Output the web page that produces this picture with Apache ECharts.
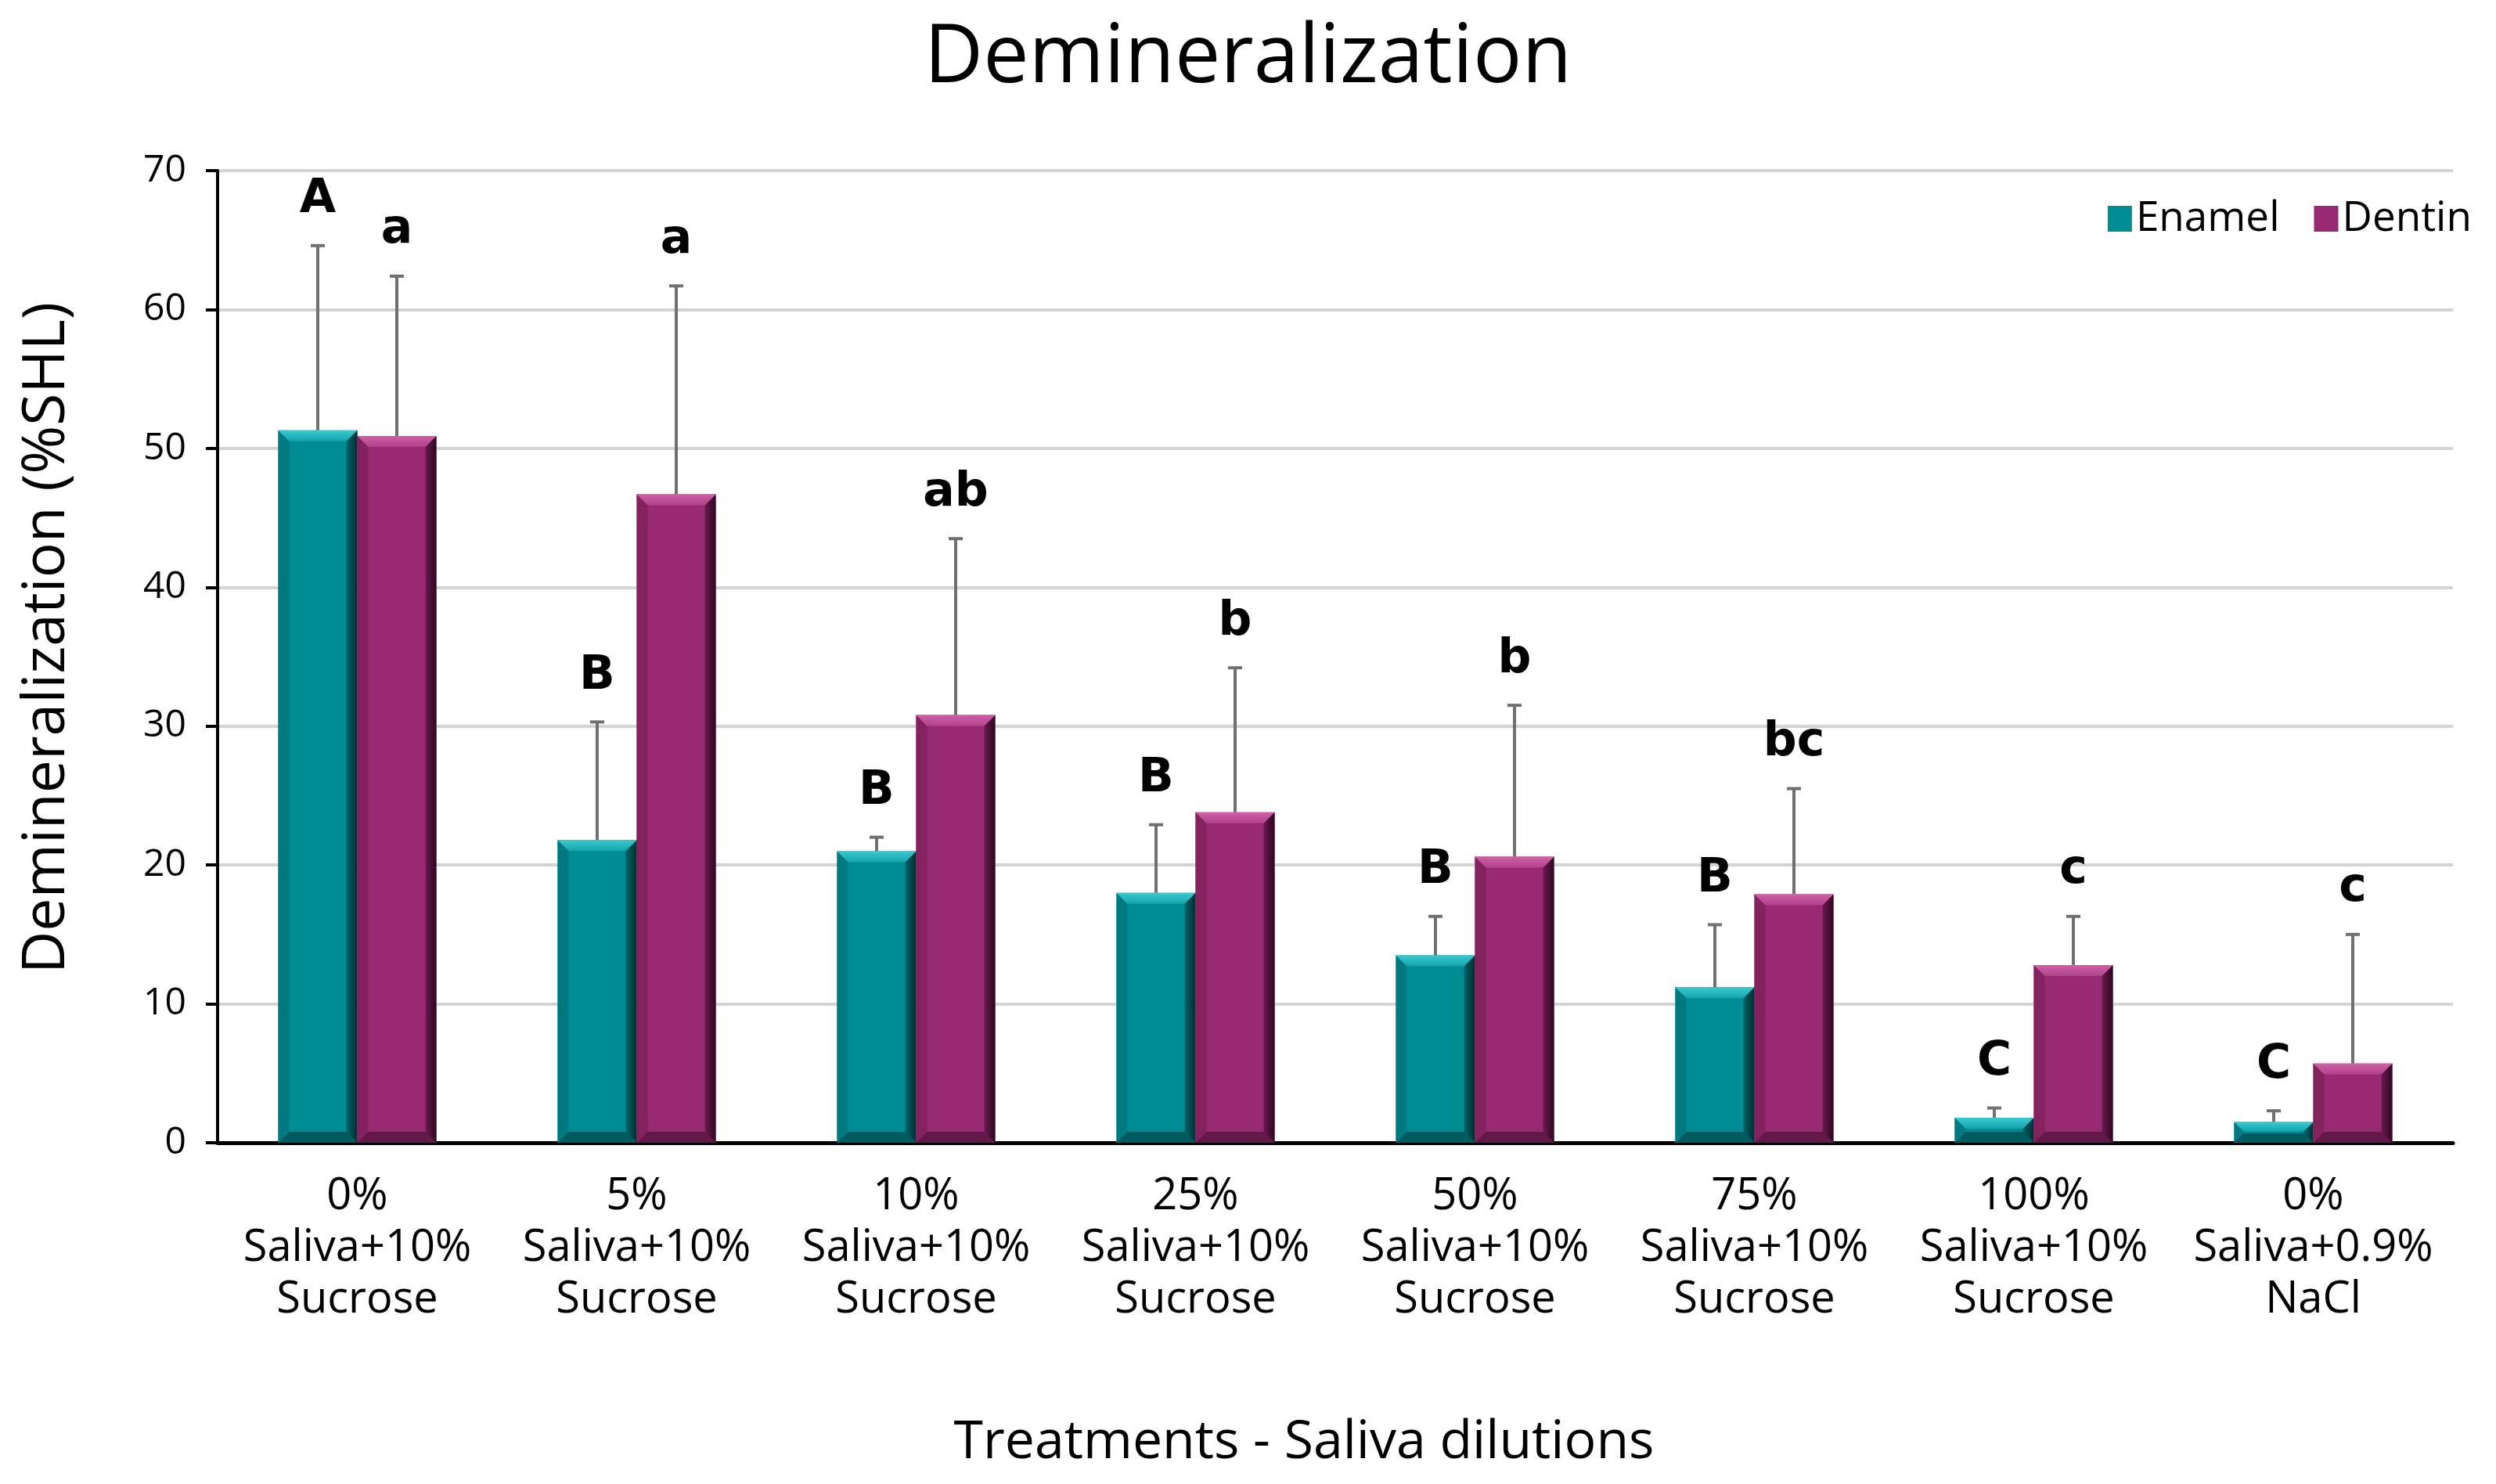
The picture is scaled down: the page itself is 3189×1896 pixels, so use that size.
<!DOCTYPE html>
<html><head><meta charset="utf-8">
<script src="https://cdn.jsdelivr.net/npm/echarts@6/dist/echarts.min.js"></script>
<style>html,body{margin:0;padding:0;background:#fff}#c{width:3189px;height:1896px}</style>
</head><body><div id="c"></div>
<script>
const categories = [
  '0%\nSaliva+10%\nSucrose', '5%\nSaliva+10%\nSucrose', '10%\nSaliva+10%\nSucrose',
  '25%\nSaliva+10%\nSucrose', '50%\nSaliva+10%\nSucrose', '75%\nSaliva+10%\nSucrose',
  '100%\nSaliva+10%\nSucrose', '0%\nSaliva+0.9%\nNaCl'
];
const enamel   = [51.3, 21.8, 21.0, 18.0, 13.5, 11.2, 1.8, 1.5];
const enamelSD = [13.3, 8.5, 1.0, 4.9, 2.8, 4.5, 0.7, 0.8];
const dentin   = [50.9, 46.7, 30.8, 23.8, 20.6, 17.9, 12.8, 5.7];
const dentinSD = [11.5, 15.0, 12.7, 10.4, 10.9, 7.6, 3.5, 9.3];
const enamelLetters = ['A', 'B', 'B', 'B', 'B', 'B', 'C', 'C'];
const dentinLetters = ['a', 'a', 'ab', 'b', 'b', 'bc', 'c', 'c'];
const yTicks = [0, 10, 20, 30, 40, 50, 60, 70];

const BARW = 0.283;
const FONT = "'Open Sans', 'Noto Sans', sans-serif";

function bevelSeries(vals, side, light, edgeL, edgeR, bottom) {
  return {
    type: 'custom', z: 3, silent: true, tooltip: {show: false},
    renderItem(params, api) {
      const i = api.value(0);
      const band = api.size([1, 0])[0];
      const bw = band * BARW;
      const xc = api.coord([i, 0])[0];
      const x0 = side < 0 ? xc - bw : xc;
      const x1 = x0 + bw;
      const y0 = api.coord([i, api.value(1)])[1];
      const yb = api.coord([i, 0])[1];
      const h = yb - y0;
      const b = Math.min(14, h / 2.2);
      return {
        type: 'group', children: [
          {type: 'polygon', shape: {points: [[x0, y0], [x0 + b, y0 + b], [x0 + b, yb - b], [x0, yb]]}, style: {fill: edgeL}},
          {type: 'polygon', shape: {points: [[x1, y0], [x1, yb], [x1 - b, yb - b], [x1 - b, y0 + b]]},
            style: {fill: {type: 'linear', x: 0, y: 0, x2: 1, y2: 0, colorStops: [{offset: 0, color: edgeR[0]}, {offset: 1, color: edgeR[1]}]}}},
          {type: 'polygon', shape: {points: [[x0, y0], [x1, y0], [x1 - b, y0 + b], [x0 + b, y0 + b]]},
            style: {fill: {type: 'linear', x: 0, y: 0, x2: 0, y2: 1, colorStops: [{offset: 0, color: light[0]}, {offset: 1, color: light[1]}]}}},
          {type: 'polygon', shape: {points: [[x0, yb], [x1, yb], [x1 - b, yb - b], [x0 + b, yb - b]]}, style: {fill: bottom}}
        ]
      };
    },
    data: vals.map((v, i) => [i, v])
  };
}

function errorSeries(vals, sds, letters, side) {
  return {
    type: 'custom', z: 5, silent: true, tooltip: {show: false},
    renderItem(params, api) {
      const i = api.value(0);
      const band = api.size([1, 0])[0];
      const bw = band * BARW;
      const cx = api.coord([i, 0])[0] + side * bw / 2;
      const yV = api.coord([i, api.value(1)])[1];
      const yT = api.coord([i, api.value(2)])[1];
      return {
        type: 'group', children: [
          {type: 'line', shape: {x1: cx, y1: yV, x2: cx, y2: yT}, style: {stroke: '#707070', lineWidth: 4}},
          {type: 'line', shape: {x1: cx - 9, y1: yT, x2: cx + 9, y2: yT}, style: {stroke: '#707070', lineWidth: 4}},
          {type: 'text', x: cx, y: yT - 58, style: {text: letters[params.dataIndex], fontFamily: "'DejaVu Sans', sans-serif", fontWeight: 'bold', fontSize: 60, fill: '#000', align: 'center', verticalAlign: 'middle'}}
        ]
      };
    },
    data: vals.map((v, i) => [i, v, v + sds[i]])
  };
}

const chart = echarts.init(document.getElementById('c'));
chart.setOption({
  backgroundColor: '#ffffff',
  animation: false,
  title: {
    text: 'Demineralization', left: 'center', top: 18,
    textStyle: {fontFamily: FONT, fontSize: 104, fontWeight: 500, color: '#000'}
  },
  legend: {
    data: ['Enamel', 'Dentin'], right: 26, top: 248, icon: 'rect',
    itemWidth: 31, itemHeight: 33, itemGap: 44,
    textStyle: {fontFamily: FONT, fontSize: 53, color: '#000'}
  },
  grid: {left: 278, right: 55, top: 218, bottom: 436, containLabel: false},
  xAxis: {
    type: 'category', data: categories,
    axisLine: {lineStyle: {color: '#000', width: 5}},
    axisTick: {show: false},
    axisLabel: {interval: 0, fontFamily: FONT, fontSize: 56, lineHeight: 66, margin: 36, color: '#000'},
    name: 'Treatments - Saliva dilutions', nameLocation: 'middle', nameGap: 350,
    nameTextStyle: {fontFamily: FONT, fontSize: 68, color: '#000', padding: [0, 80, 0, 0]}
  },
  yAxis: {
    type: 'value', min: 0, max: 70, interval: 10,
    axisLine: {show: true, lineStyle: {color: '#000', width: 4}},
    axisTick: {show: true, length: 15, lineStyle: {color: '#000', width: 4}},
    axisLabel: {fontFamily: FONT, fontSize: 48, color: '#000', margin: 40,
      formatter: v => yTicks.includes(v) ? String(v) : ''},
    splitLine: {show: true, lineStyle: {color: '#d4d4d4', width: 4}},
    name: 'Demineralization (%SHL)', nameLocation: 'middle', nameRotate: 90, nameGap: 180,
    nameTextStyle: {fontFamily: FONT, fontSize: 75, color: '#000', padding: [0, 0, 0, 48]}
  },
  series: [
    {name: 'Enamel', type: 'bar', data: enamel, barWidth: '28.3%', barGap: '0%', z: 2,
      itemStyle: {color: '#008c93'}},
    {name: 'Dentin', type: 'bar', data: dentin, barWidth: '28.3%', barGap: '0%', z: 2,
      itemStyle: {color: '#972a73'}},
    bevelSeries(enamel, -1, ['#3cc9d0', '#12a4ab'], '#007a80', ['#00656a', '#002c2f'], '#005b60'),
    bevelSeries(dentin, 1, ['#d060a8', '#b0438a'], '#84225f', ['#6a1a4e', '#2e0720'], '#621848'),
    errorSeries(enamel, enamelSD, enamelLetters, -1),
    errorSeries(dentin, dentinSD, dentinLetters, 1)
  ]
});
</script></body></html>
